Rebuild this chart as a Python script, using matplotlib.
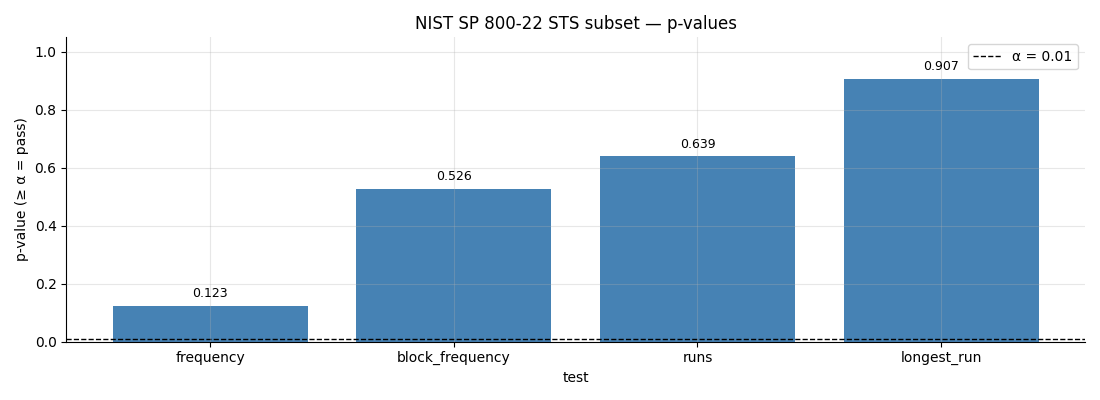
import matplotlib
matplotlib.use("Agg")
from matplotlib import pyplot as plt

tests = ["frequency", "block_frequency", "runs", "longest_run"]
p_values = [0.123, 0.526, 0.639, 0.907]
alpha = 0.01

fig, ax = plt.subplots(figsize=(11, 4), dpi=100)
bars = ax.bar(tests, p_values, color="steelblue", width=0.8)
ax.axhline(alpha, color="black", linestyle="--", linewidth=1, label=f"α = {alpha}")
for b, v in zip(bars, p_values):
    ax.text(b.get_x() + b.get_width() / 2, v + 0.02, f"{v:.3f}",
            ha="center", va="bottom", fontsize=9)
ax.set_ylim(0, 1.05)
ax.set_xlabel("test")
ax.set_ylabel("p-value (≥ α = pass)")
ax.set_title("NIST SP 800-22 STS subset — p-values")
ax.grid(True, alpha=0.3)
ax.set_axisbelow(False)
ax.spines["top"].set_visible(False)
ax.spines["right"].set_visible(False)
ax.legend(loc="upper right")
fig.tight_layout()
fig.savefig("out.png")
